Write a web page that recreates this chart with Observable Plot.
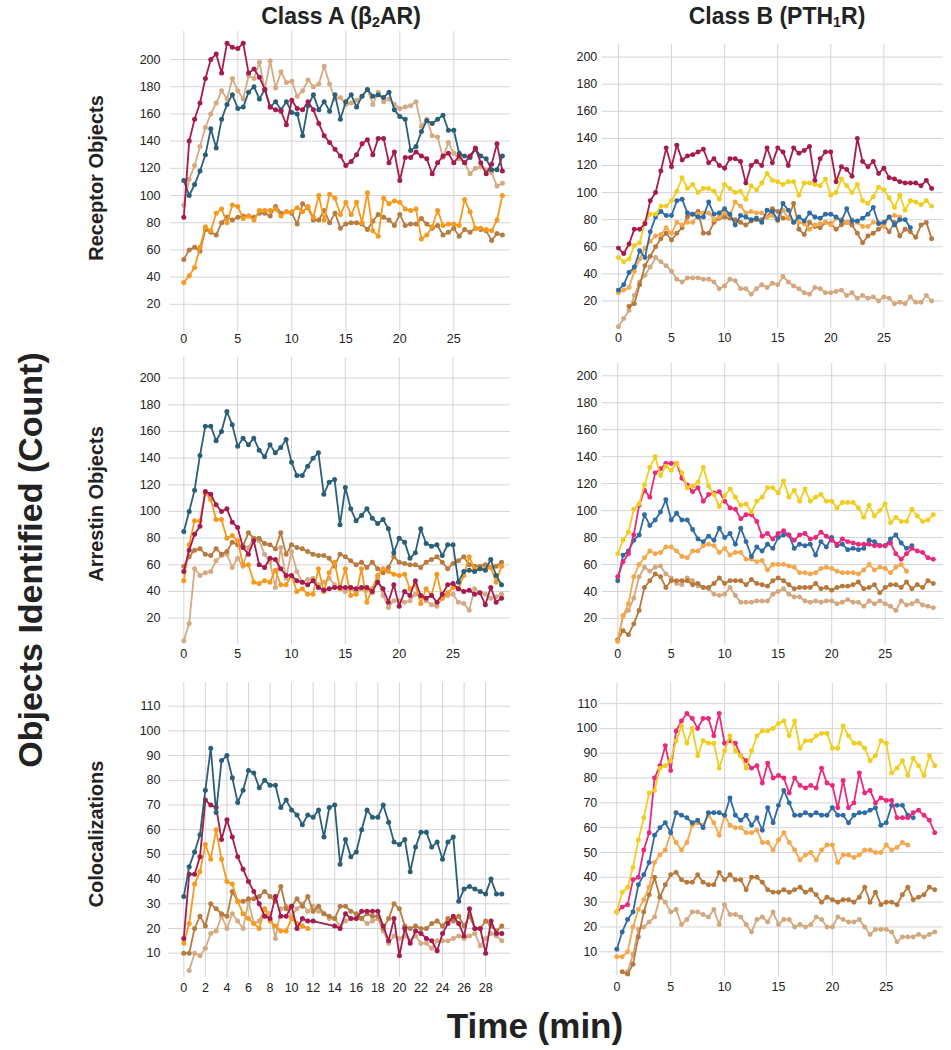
<!DOCTYPE html>
<html><head><meta charset="utf-8">
<script src="https://cdn.jsdelivr.net/npm/d3@7"></script>
<script src="https://cdn.jsdelivr.net/npm/@observablehq/plot@0.6"></script>
<style>
body{margin:0;background:#fff;}
#chart{position:relative;width:951px;height:1050px;font-family:"Liberation Sans",Arial,Helvetica,sans-serif;color:#222;overflow:hidden;}
.lbl{position:absolute;font-weight:bold;white-space:nowrap;line-height:1;}
.panel{position:absolute;}
sub{font-size:0.62em;vertical-align:-0.25em;}
</style></head><body><div id="chart"></div><script>
// ---- time axis (minutes) ----
const minutes = [0,0.5,1,1.5,2,2.5,3,3.5,4,4.5,5,5.5,6,6.5,7,7.5,8,8.5,9,9.5,10,10.5,11,11.5,12,12.5,13,13.5,14,14.5,15,15.5,16,16.5,17,17.5,18,18.5,19,19.5,20,20.5,21,21.5,22,22.5,23,23.5,24,24.5,25,25.5,26,26.5,27,27.5,28,28.5,29,29.5];
const xTicks5 = [0,5,10,15,20,25];
const xTicks2 = [0,2,4,6,8,10,12,14,16,18,20,22,24,26,28];
const yTicks200 = [20,40,60,80,100,120,140,160,180,200];
const yTicks110 = [10,20,30,40,50,60,70,80,90,100,110];
const N = null;

// ---- Class A, Receptor Objects ----
const aRecCrimson = [84,140,156,168,186,200,204,190,212,209, 208,212,190,193,187,178,165,163,162,152, 170,164,163,169,163,153,144,139,134,129, 122,125,130,138,141,130,142,142,124,132, 111,128,128,132,129,127,116,124,129,131, 124,129,124,129,135,124,116,123,138,118];
const aRecTan     = [93,112,122,136,150,160,168,177,171,186, 177,171,188,186,198,178,199,179,191,183, 184,173,177,185,180,182,195,182,171,172, 167,168,170,173,178,167,176,169,171,167, 164,165,166,169,151,156,144,143,128,139, 131,127,124,116,120,121,119,117,107,109];
const aRecTeal    = [111,100,108,118,130,149,135,156,167,174, 164,165,176,180,171,178,165,169,163,169, 161,160,144,166,174,163,169,162,174,156, 169,174,165,173,178,173,174,172,176,163, 158,156,133,136,147,155,153,156,159,148, 148,131,129,128,134,129,127,119,119,129];
const aRecOrange  = [36,41,47,62,77,74,87,90,80,93, 92,83,85,82,89,89,89,90,85,88, 88,91,88,92,84,100,82,101,98,86, 95,86,95,80,102,74,70,98,94,96, 95,90,89,90,68,71,77,89,78,79, 79,78,97,88,76,76,75,74,82,100];
const aRecBrown   = [53,60,62,59,75,73,71,80,84,82, 84,85,85,84,87,87,85,92,87,88, 87,79,94,91,82,82,89,80,87,76, 79,80,80,79,75,81,86,84,82,78, 86,78,79,79,83,79,76,78,71,73, 76,70,75,73,76,75,74,67,72,71];

// ---- Class B, Receptor Objects ----
const bRecCrimson = [59,55,62,73,73,77,94,100,116,133, 119,135,124,127,128,130,132,122,125,120, 118,125,125,123,107,120,123,120,133,122, 133,130,120,133,129,131,134,109,125,130, 130,108,119,117,112,140,123,119,123,114, 118,111,110,108,107,107,107,105,109,103];
const bRecYellow  = [52,49,51,61,63,78,84,84,90,90, 94,101,111,103,106,100,103,103,101,95, 106,103,100,101,95,105,102,107,114,109, 108,106,108,108,98,107,107,106,105,110, 98,100,110,105,100,106,94,92,97,104, 102,96,89,98,87,94,93,91,94,90];
const bRecBlue    = [28,32,41,45,57,52,71,82,86,83, 83,94,95,85,84,82,82,93,84,85, 88,84,76,83,82,80,81,78,87,86, 80,92,87,78,82,79,85,82,81,84, 84,82,79,88,79,79,81,84,89,77, 78,82,76,80,80,74,N,N,N,N];
const bRecOrange  = [26,28,30,42,51,59,64,68,69,74, 70,78,76,78,78,84,85,85,80,82, 85,83,93,90,85,86,85,85,82,83, 79,87,81,78,78,77,73,76,77,78, 76,81,80,78,80,78,75,75,78,78, 75,82,83,82,N,N,N,N,N,N];
const bRecBrown   = [N,N,16,18,32,46,53,60,66,70, 65,70,74,82,84,86,70,70,78,81, 82,81,80,78,76,79,80,80,82,88, 86,81,81,92,73,69,78,75,74,78, 77,73,76,78,76,70,63,68,70,73, 76,71,78,68,73,71,67,76,78,66];
const bRecTan     = [1,7,13,24,34,39,45,52,49,46, 42,36,34,37,37,37,36,36,34,29, 31,36,35,29,29,25,29,32,30,33, 32,38,34,31,29,26,25,30,29,26, 26,27,28,24,26,22,24,22,23,20, 23,22,18,19,18,23,19,19,24,20];

// ---- Class A, Arrestin Objects ----
const aArrTeal    = [85,100,116,142,164,164,153,160,175,165, 149,155,150,155,146,141,150,144,148,154, 137,127,127,134,140,144,113,122,124,90, 118,102,93,97,102,95,91,94,87,69, 80,77,65,69,87,76,74,75,67,75, 75,47,55,56,55,57,56,64,52,45];
const aArrCrimson = [55,71,83,89,115,113,105,100,102,92, 88,73,68,78,60,58,65,64,57,52, 52,48,47,45,48,43,41,42,43,43, 43,43,42,43,43,40,47,42,32,45, 29,40,37,48,37,35,37,32,38,45, 46,42,40,41,38,39,30,43,32,35];
const aArrOrange  = [48,75,93,93,114,109,94,94,80,82, 78,60,60,47,46,48,47,56,45,45, 52,40,42,38,38,57,40,54,62,42, 57,37,38,57,32,42,52,57,55,53, 52,53,42,45,31,42,37,53,35,39, 43,42,52,66,57,57,57,58,47,59];
const aArrBrown   = [59,66,71,72,68,67,72,68,70,77, 75,74,84,80,80,76,75,72,84,68, 75,73,72,70,68,67,67,65,59,68, 66,63,60,62,58,62,57,54,58,66, 62,61,60,60,58,62,64,66,62,57, 61,63,66,60,59,59,60,58,59,62];
const aArrTan     = [3,16,57,52,54,55,63,67,68,58, 65,59,73,80,78,68,62,43,73,50, 70,55,47,49,50,45,47,50,45,42, 40,42,39,42,41,39,50,37,28,33, 33,32,33,38,36,33,30,29,35,37, 38,32,31,26,42,39,38,35,36,38];

// ---- Class B, Arrestin Objects ----
const bArrYellow  = [68,78,84,101,105,119,132,140,126,133, 130,135,128,117,118,121,132,118,112,103, 111,116,110,104,105,99,107,110,117,117, 113,122,110,115,107,116,107,110,112,107, 107,102,106,106,106,102,95,104,96,100, 105,91,95,92,92,101,96,92,93,97];
const bArrPink    = [51,62,68,82,104,115,110,128,131,135, 135,135,124,119,114,117,107,112,113,114, 107,102,101,94,97,97,92,81,83,79, 83,85,82,78,82,83,79,80,84,81, 78,75,79,77,76,75,75,75,74,74, 74,76,68,64,68,72,70,69,65,64];
const bArrBlue    = [48,67,70,78,82,97,89,93,99,108, 93,98,93,93,86,79,77,81,78,87, 80,83,75,87,77,66,73,70,75,72, 80,82,82,72,75,74,75,67,77,73, 80,74,75,71,72,71,72,78,77,74, 74,79,82,76,72,74,N,N,N,N];
const bArrOrange  = [3,22,31,51,60,65,70,68,69,73, 73,70,66,65,70,70,74,75,74,69, 72,67,69,69,64,64,62,63,56,60, 60,60,59,58,54,54,53,54,57,58, 57,55,54,54,54,53,56,60,56,58, 57,54,58,60,55,N,N,N,N,N];
const bArrBrown   = [4,11,8,16,26,43,48,53,51,43, 48,48,48,48,45,46,43,43,46,50, 46,48,48,48,45,49,46,45,44,48, 50,48,45,42,43,43,43,46,42,43, 41,43,44,44,45,47,42,43,45,39, 43,45,45,43,47,42,45,43,48,46];
const bArrTan     = [4,22,26,35,51,58,55,58,59,53, 50,46,45,50,48,44,43,42,38,37, 38,43,37,32,32,32,33,33,33,38, 40,42,38,36,36,33,32,33,32,33, 33,31,32,34,32,32,29,33,31,33, 31,29,26,33,30,31,33,30,29,28];

// ---- Class A, Colocalizations ----
const aColTeal    = [33,45,51,58,76,93,67,88,90,81, 71,76,84,83,77,80,78,78,69,72, 68,66,62,66,65,68,57,69,70,46, 56,49,51,60,68,65,65,70,63,55, 54,56,43,53,59,59,53,55,48,55, 57,31,36,37,36,35,34,40,34,34];
const aColCrimson = [16,42,42,49,72,70,69,56,64,57, 49,44,39,35,30,25,24,33,25,25, 29,20,24,23,23,N,N,N,21,20, 26,24,24,27,27,27,27,21,15,24, 9,20,14,19,18,16,15,11,18,22, 25,22,17,28,20,20,10,23,18,18];
const aColOrange  = [14,22,38,43,54,48,60,48,39,38, 31,26,24,22,20,28,23,21,19,19, 24,22,21,20,N,N,N,N,N,N, N,N,N,N,N,N,N,N,N,N, N,N,N,N,N,N,N,N,N,N, N,N,N,N,N,N,N,N,N,N];
const aColBrown   = [10,10,20,25,21,30,28,26,25,35, 31,31,32,32,33,35,33,31,37,28, 29,32,29,33,27,29,26,25,24,29, 29,27,26,24,26,25,25,20,24,30, 28,21,20,21,20,20,22,23,21,24, 23,25,21,25,20,20,23,21,19,21];
const aColTan     = [N,3,10,9,12,18,19,25,20,26, 23,20,31,22,23,28,26,16,28,29, 25,28,30,27,29,27,26,24,24,21, 23,24,24,24,22,23,24,19,14,17, 16,17,15,17,14,14,12,15,15,15, 16,17,16,17,18,13,16,18,17,15];

// ---- Class B, Colocalizations ----
const bColYellow  = [26,34,36,44,55,64,74,75,84,85, 87,95,101,94,100,89,95,94,94,84, 91,97,91,89,84,91,97,99,99,100, 102,103,97,103,92,95,95,97,98,98, 92,92,101,97,94,94,92,87,89,95, 94,82,84,87,81,88,85,81,89,85];
const bColPink    = [26,28,29,39,40,51,58,80,85,93, 83,99,103,106,104,100,104,104,97,106, 94,95,94,89,87,84,85,78,86,80, 81,80,74,80,77,76,77,76,84,78, 77,68,79,68,70,82,74,75,70,72, 71,71,64,64,64,66,67,65,63,58];
const bColBlue    = [11,18,23,26,37,41,46,57,60,62, 58,66,65,64,62,63,60,66,66,66, 65,72,65,63,65,61,64,59,68,62, 69,75,70,65,65,66,65,66,65,65, 68,65,65,62,65,66,66,67,68,61, 62,69,69,69,65,64,N,N,N,N];
const bColOrange  = [8,8,10,20,27,31,36,46,49,51, 58,54,51,54,61,62,61,65,62,57, 65,61,60,60,58,58,59,54,54,51, 55,58,54,51,47,49,50,47,51,53, 53,46,49,49,48,49,51,51,50,50, 53,51,52,54,53,N,N,N,N,N];
const bColBrown   = [N,2,1,5,16,26,33,40,32,37, 41,42,39,38,38,41,38,37,37,42, 39,41,39,39,35,40,40,38,35,34, 34,35,34,35,36,34,35,33,30,32, 31,30,31,31,30,32,36,30,34,29, 30,30,29,33,36,31,32,33,36,35];
const bColTan     = [N,N,2,9,19,20,22,24,32,30, 26,27,21,23,26,26,25,24,27,21, 29,25,25,24,21,18,23,24,22,26, 21,23,23,20,21,20,21,24,23,20, 20,24,23,22,22,23,20,17,19,19, 19,18,14,16,16,16,17,16,17,18];

// ---- colours ----
const COL = {
  crimson:"#a61b4d", tan:"#d5aa83", teal:"#2b5f78", orangeA:"#f6991d", brownA:"#b67c42",
  yellow:"#f1cd1f", blue:"#2f6ba4", orangeB:"#f4a74c", pink:"#e9297b", brownB:"#b6793b", tanB:"#d3a880"
};

// ---- panels: frame in page px + scale calibration ----
const panels = [
  {frame:[170,510,31,331], cal:[183.3,10.8,331,1.36], xTicks:xTicks5, yTicks:yTicks200, xPad:3, yPad:10,
   series:[[aRecBrown,COL.brownA],[aRecOrange,COL.orangeA],[aRecTan,COL.tan],[aRecTeal,COL.teal],[aRecCrimson,COL.crimson]]},
  {frame:[602,945,44,329], cal:[618.3,10.67,329,1.3615], xTicks:xTicks5, yTicks:yTicks200, xPad:5, yPad:5,
   series:[[bRecTan,COL.tanB],[bRecBrown,COL.brownB],[bRecOrange,COL.orangeB],[bRecBlue,COL.blue],[bRecYellow,COL.yellow],[bRecCrimson,COL.crimson]]},
  {frame:[168,510,357,644], cal:[183.3,10.77,644.3,1.3333], xTicks:xTicks5, yTicks:yTicks200, xPad:5, yPad:8,
   series:[[aArrTan,COL.tan],[aArrBrown,COL.brownA],[aArrOrange,COL.orangeA],[aArrCrimson,COL.crimson],[aArrTeal,COL.teal]]},
  {frame:[602,945,363,646], cal:[617.6,10.75,646.4,1.355], xTicks:xTicks5, yTicks:yTicks200, xPad:4, yPad:5,
   series:[[bArrTan,COL.tanB],[bArrBrown,COL.brownB],[bArrOrange,COL.orangeB],[bArrBlue,COL.blue],[bArrPink,COL.pink],[bArrYellow,COL.yellow]]},
  {frame:[168,510,682,977], cal:[183.3,10.78,977.4,2.47], xTicks:xTicks2, yTicks:yTicks110, xPad:6, yPad:8,
   series:[[aColTan,COL.tan],[aColBrown,COL.brownA],[aColOrange,COL.orangeA],[aColCrimson,COL.crimson],[aColTeal,COL.teal]]},
  {frame:[600,945,683,977], cal:[616.7,10.83,977.6,2.494], xTicks:xTicks5, yTicks:yTicks110, xPad:6, yPad:3,
   series:[[bColTan,COL.tanB],[bColBrown,COL.brownB],[bColOrange,COL.orangeB],[bColBlue,COL.blue],[bColPink,COL.pink],[bColYellow,COL.yellow]]}
];

const chart = document.getElementById("chart");
const FONT = '"Liberation Sans", Arial, Helvetica, sans-serif';
const ML = 60, MR = 8, MT = 10, MB = 32;

for (const p of panels) {
  const [fx1, fx2, fy1, fy2] = p.frame;
  const [x0, ppm, y0, ppu] = p.cal;
  const xd = [(fx1 - x0) / ppm, (fx2 - x0) / ppm];
  const yd = [(y0 - fy2) / ppu, (y0 - fy1) / ppu];
  const marks = [
    Plot.ruleX(p.xTicks, {stroke: "#d4d4d4", strokeWidth: 1}),
    Plot.ruleY(p.yTicks, {stroke: "#d4d4d4", strokeWidth: 1})
  ];
  for (const [vals, color] of p.series) {
    const d = minutes.map((t, i) => ({t, v: vals[i]})).filter(r => r.v != null);
    marks.push(Plot.line(d, {x: "t", y: "v", stroke: color, strokeWidth: 1.8}));
    marks.push(Plot.dot(d, {x: "t", y: "v", r: 2.5, fill: color}));
  }
  const svg = Plot.plot({
    width: fx2 - fx1 + ML + MR,
    height: fy2 - fy1 + MT + MB,
    marginLeft: ML, marginRight: MR, marginTop: MT, marginBottom: MB,
    style: {fontSize: "12.5px", fontFamily: FONT, color: "#222", background: "transparent", overflow: "visible"},
    x: {domain: xd, ticks: p.xTicks, tickSize: 0, tickPadding: p.xPad, label: null},
    y: {domain: yd, ticks: p.yTicks, tickSize: 0, tickPadding: p.yPad, label: null},
    marks
  });
  const wrap = document.createElement("div");
  wrap.className = "panel";
  wrap.style.left = (fx1 - ML) + "px";
  wrap.style.top = (fy1 - MT) + "px";
  wrap.appendChild(svg);
  chart.appendChild(wrap);
}

function label(html, cx, cy, size, rotate) {
  const el = document.createElement("div");
  el.className = "lbl";
  el.innerHTML = html;
  el.style.left = cx + "px";
  el.style.top = cy + "px";
  el.style.fontSize = size + "px";
  el.style.transform = "translate(-50%,-50%)" + (rotate ? " rotate(-90deg)" : "");
  chart.appendChild(el);
}
label("Class A (β<sub>2</sub>AR)", 341, 17, 23, false);
label("Class B (PTH<sub>1</sub>R)", 777, 17, 23, false);
label("Receptor Objects", 96, 178, 20, true);
label("Arrestin Objects", 96, 504, 20, true);
label("Colocalizations", 96, 834, 20, true);
label("Objects Identified (Count)", 30, 560, 34, true);
label("Time (min)", 535, 1025, 35, false);
</script></body></html>
